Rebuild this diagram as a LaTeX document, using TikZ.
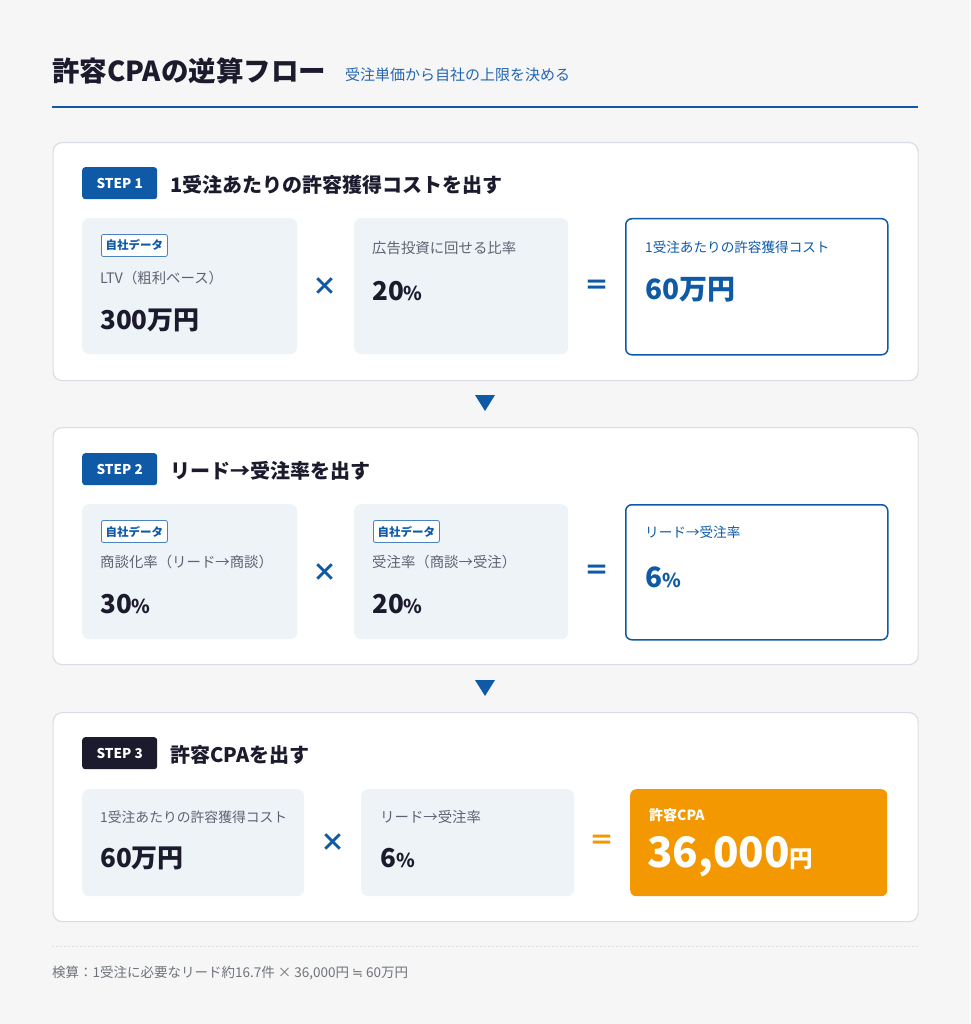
\documentclass[tikz,border=0pt]{standalone}
\usepackage{fontspec}
\setmainfont{Noto Sans CJK JP}
\newfontfamily\djv{DejaVu Sans}
\definecolor{bgc}{HTML}{F6F6F6}
\definecolor{navy}{HTML}{1B1B2D}
\definecolor{blu}{HTML}{0E5AA7}
\definecolor{subblue}{HTML}{2466B2}
\definecolor{greytxt}{HTML}{5B6472}
\definecolor{boxfill}{HTML}{EEF3F8}
\definecolor{cardline}{HTML}{D9DEE5}
\definecolor{orng}{HTML}{F39800}
\definecolor{foot}{HTML}{6E737B}
\newcommand{\fs}[1]{\fontsize{#1}{#1}\selectfont}
\newcommand{\pctsign}{{\fs{19}\%}}
\begin{document}
\begin{tikzpicture}[x=1pt,y=-1pt,
  card/.style={draw=cardline,line width=1.2pt,fill=white,rounded corners=9pt,anchor=north west,inner sep=0pt},
  inbox/.style={fill=boxfill,rounded corners=7pt,anchor=north west,inner sep=0pt},
  resbox/.style={draw=blu,line width=1.5pt,fill=white,rounded corners=6pt,anchor=north west,inner sep=0pt},
  orbox/.style={fill=orng,rounded corners=6pt,anchor=north west,inner sep=0pt},
  badge/.style={rounded corners=3pt,anchor=north west,inner sep=0pt,minimum width=75,minimum height=32,text=white,font=\fs{13.5}\bfseries},
  tag/.style={draw=blu!75,line width=0.8pt,fill=white,rounded corners=2pt,anchor=west,inner sep=0pt,minimum width=66,minimum height=22,text=blu,font=\fs{11.5}\bfseries},
  steptitle/.style={anchor=west,inner sep=0pt,text=navy,font=\fs{20}\bfseries},
  lbl/.style={anchor=west,inner sep=0pt,text=greytxt,font=\fs{14.4}},
  val/.style={anchor=west,inner sep=0pt,text=navy,font=\fs{26}\bfseries},
  rlbl/.style={anchor=west,inner sep=0pt,text=blu,font=\fs{13.6}},
  rval/.style={anchor=west,inner sep=0pt,text=blu,font=\fs{28}\bfseries},
  op/.style={inner sep=0pt,text=blu,font=\fs{25}\bfseries},
  tri/.style={fill=blu}
]
\fill[bgc] (0,0) rectangle (970,1024);
\useasboundingbox (0,0) rectangle (970,1024);

% header
\node[anchor=west,inner sep=0pt,text=navy,font=\fs{27.5}\bfseries] (title) at (52,71) {許容CPAの逆算フロー};
\node[anchor=west,inner sep=0pt,text=subblue,font=\fs{15}] (subtitle) at (345,75) {受注単価から自社の上限を決める};
\coordinate (hl) at (52,107); \coordinate (hr) at (918,107);
\draw[blu,line width=1.5pt] (hl) -- (hr);

% ===== STEP 1 =====
\node[card,minimum width=865,minimum height=238] (card1) at (52.5,142) {};
\node[badge,fill=blu] (b1) at (82,167) {STEP 1};
\node[steptitle] (t1) at (170,185) {1受注あたりの許容獲得コストを出す};
\node[inbox,minimum width=215,minimum height=136] (a1) at (82,218) {};
\node[tag] (g1) at (101,245.5) {自社データ};
\node[lbl] (l1) at (100,278) {LTV（粗利ベース）};
\node[val] (v1) at (100,320) {300万円};
\node[op] (x1) at (325,287) {×};
\node[inbox,minimum width=214,minimum height=136] (c1) at (354,218) {};
\node[lbl] (l2) at (372,248) {広告投資に回せる比率};
\node[val] (v2) at (372,291) {20\pctsign};
\node[op] (e1) at (597,287) {＝};
\node[resbox,minimum width=262,minimum height=136] (r1) at (625,218) {};
\node[rlbl] (rl1) at (645,247) {1受注あたりの許容獲得コスト};
\node[rval] (rv1) at (645,290) {60万円};

% arrow 1
\coordinate (ta1) at (475,395); \coordinate (ta2) at (495,395); \coordinate (ta3) at (485,411);
\fill[tri] (ta1) -- (ta2) -- (ta3) -- cycle;

% ===== STEP 2 =====
\node[card,minimum width=865,minimum height=237] (card2) at (52.5,427) {};
\node[badge,fill=blu] (b2) at (82,453) {STEP 2};
\node[steptitle] (t2) at (170,471) {リード→受注率を出す};
\node[inbox,minimum width=215,minimum height=135] (a2) at (82,504) {};
\node[tag] (g2) at (101,531.5) {自社データ};
\node[lbl] (l3) at (100,562) {商談化率（リード→商談）};
\node[val] (v3) at (100,604) {30\pctsign};
\node[op] (x2) at (325,573) {×};
\node[inbox,minimum width=214,minimum height=135] (c2) at (354,504) {};
\node[tag] (g3) at (373,531.5) {自社データ};
\node[lbl] (l4) at (372,562) {受注率（商談→受注）};
\node[val] (v4) at (372,604) {20\pctsign};
\node[op] (e2) at (597,572) {＝};
\node[resbox,minimum width=262,minimum height=135] (r2) at (625,504) {};
\node[rlbl] (rl2) at (645,532) {リード→受注率};
\node[rval] (rv2) at (645,577) {6{\fs{19}\%}};

% arrow 2
\coordinate (tb1) at (475,680); \coordinate (tb2) at (495,680); \coordinate (tb3) at (485,696);
\fill[tri] (tb1) -- (tb2) -- (tb3) -- cycle;

% ===== STEP 3 =====
\node[card,minimum width=865,minimum height=209] (card3) at (52.5,712) {};
\node[badge,fill=navy] (b3) at (82,737) {STEP 3};
\node[steptitle] (t3) at (170,755) {許容CPAを出す};
\node[inbox,minimum width=222,minimum height=107] (a3) at (82,789) {};
\node[lbl,font=\fs{13.8}] (l5) at (100,817) {1受注あたりの許容獲得コスト};
\node[val] (v5) at (100,858) {60万円};
\node[op] (x3) at (333,843) {×};
\node[inbox,minimum width=213,minimum height=107] (c3) at (361,789) {};
\node[lbl] (l6) at (380,817) {リード→受注率};
\node[val] (v6) at (380,858) {6\pctsign};
\node[op,text=orng] (e3) at (602,842) {＝};
\node[orbox,minimum width=257,minimum height=107] (r3) at (630,789) {};
\node[anchor=west,inner sep=0pt,text=white,font=\fs{14}\bfseries] (rl3) at (649,815) {許容CPA};
\node[anchor=base west,inner sep=0pt,text=white,font=\fs{42}\bfseries] (rv3) at (647,867) {36,000{\fs{23.5}円}};

% footer
\coordinate (fl) at (52,946); \coordinate (fr) at (918,946);
\draw[cardline,line width=0.8pt,dash pattern=on 2pt off 2pt] (fl) -- (fr);
\node[anchor=west,inner sep=0pt,text=foot,font=\fs{13.5}] (note) at (52,973) {検算：1受注に必要なリード約16.7件 × 36,000円 {\djv\fs{13}≒} 60万円};
\end{tikzpicture}
\end{document}
